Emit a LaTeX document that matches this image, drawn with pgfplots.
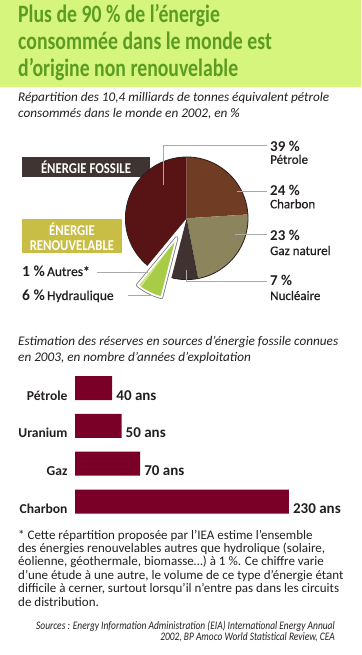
\documentclass[border=0pt]{standalone}
\usepackage{pgfplots}
\pgfplotsset{compat=1.18}
\usepgfplotslibrary{polar}
\usepackage{fontspec}
\setmainfont{Carlito}
\newfontfamily\titlefont[FakeStretch=0.79]{Carlito}
\newfontfamily\boxfont[FakeStretch=0.85]{Carlito}
\newfontfamily\srcfont[FakeStretch=0.82]{Carlito}
\newfontfamily\semifont[FakeBold=0.8]{Carlito}
\definecolor{cBand}{RGB}{214,245,125}
\definecolor{cTitle}{RGB}{92,156,35}
\definecolor{cText}{RGB}{35,31,32}
\definecolor{cBoxDark}{RGB}{63,52,49}
\definecolor{cBoxOlive}{RGB}{200,189,69}
\definecolor{cPet}{RGB}{88,20,20}
\definecolor{cCha}{RGB}{112,60,35}
\definecolor{cGaz}{RGB}{140,132,92}
\definecolor{cNuc}{RGB}{64,50,48}
\definecolor{cHyd}{RGB}{168,204,72}
\definecolor{cAut}{RGB}{205,228,128}
\definecolor{cWedge}{RGB}{120,120,120}
\definecolor{cLead}{RGB}{170,170,170}
\definecolor{cPieLine}{RGB}{40,30,30}
\definecolor{cBar}{RGB}{122,0,40}
\begin{document}
\begin{tikzpicture}
\path[use as bounding box] (0,0) rectangle (361pt,-655pt);
\begin{scope}[x=1pt,y=-1pt]
\fill[cBand] (0,0) rectangle (361,87);
\begin{scope}[every node/.style={anchor=base west, inner sep=0pt, text=cTitle, font=\titlefont\bfseries\fontsize{25}{27}\selectfont}]
\node at (18,22.7) {Plus de 90 \% de l’énergie};
\node at (18,50) {consommée dans le monde est};
\node at (18,76.5) {d’origine non renouvelable};
\end{scope}
\begin{scope}[every node/.style={anchor=base west, inner sep=0pt, text=cText, font=\itshape\fontsize{13.2}{15}\selectfont}]
\node at (18,102) {Répartition des 10,4 milliards de tonnes équivalent pétrole};
\node at (18,118) {consommés dans le monde en 2002, en \%};
\node at (18,345) {Estimation des réserves en sources d’énergie fossile connues};
\node at (18,361) {en 2003, en nombre d’années d’exploitation};
\end{scope}
\fill[cBoxDark] (22,157) rectangle (150,177);
\node[anchor=base, inner sep=0pt, text=white, font=\boxfont\bfseries\fontsize{15}{16}\selectfont] at (86,173) {ÉNERGIE FOSSILE};
\fill[cBoxOlive] (22,219) rectangle (122,253);
\node[anchor=base, inner sep=0pt, text=white, font=\boxfont\bfseries\fontsize{15}{16}\selectfont] at (72,235) {ÉNERGIE};
\node[anchor=base, inner sep=0pt, text=white, font=\boxfont\bfseries\fontsize{15}{16}\selectfont] at (72,250.5) {RENOUVELABLE};
\end{scope}

% ---------- pie ----------
\begin{polaraxis}[at={(186.7pt,-218.3pt)}, anchor=origin, hide axis, scale only axis,
  width=122.6pt, height=122.6pt, xmin=0, xmax=360, ymin=0, ymax=61.3, clip=false]
% Petrole 39 %, Charbon 24 %, Gaz naturel 23 %, Nucleaire 7 % (1 % = 3.6 deg, clockwise from 90 deg)
\addplot[fill=cPet, draw=none, domain={90}:{90+3.6*39}, samples=60] {61.3} -- (axis cs:0,0) -- cycle;
\addplot[fill=cCha, draw=none, domain={90-3.6*24}:{90}, samples=40] {61.3} -- (axis cs:0,0) -- cycle;
\addplot[fill=cGaz, draw=none, domain={90-3.6*47}:{90-3.6*24}, samples=40] {61.3} -- (axis cs:0,0) -- cycle;
\addplot[fill=cNuc, draw=none, domain={90-3.6*54}:{90-3.6*47}, samples=20] {61.3} -- (axis cs:0,0) -- cycle;
\addplot[draw=cPieLine, line width=0.8pt, domain={90-3.6*54}:{90+3.6*39}, samples=150] {61.3};
\end{polaraxis}
% exploded renewable wedge: Hydraulique 6 %, Autres 1 %
\begin{polaraxis}[at={(176.7pt,-237.9pt)}, anchor=origin, hide axis, scale only axis,
  width=122.6pt, height=122.6pt, xmin=0, xmax=360, ymin=0, ymax=61.3, clip=false]
\addplot[draw=cWedge, line width=3.4pt, line join=round, domain={90-3.6*61}:{90-3.6*54}, samples=20] {61.3} -- (axis cs:0,0) -- cycle;
\addplot[fill=cHyd, draw=none, domain={90-3.6*60}:{90-3.6*54}, samples=20] {61.3} -- (axis cs:0,0) -- cycle;
\addplot[fill=cAut, draw=none, domain={90-3.6*61}:{90-3.6*60}, samples=5] {61.3} -- (axis cs:0,0) -- cycle;
\addplot[draw=white, line width=1.8pt, line join=round, domain={90-3.6*61}:{90-3.6*54}, samples=20] {61.3} -- (axis cs:0,0) -- cycle;
\end{polaraxis}

\begin{scope}[x=1pt,y=-1pt]
\draw[cLead, line width=1pt] (163,185) -- (163,146) -- (267,146);
\draw[cLead, line width=1pt] (237,191) -- (267,191);
\draw[cLead, line width=1pt] (235,234) -- (267,234);
\draw[cLead, line width=1pt] (186.7,270) -- (186.7,281) -- (267,281);
\draw[cLead, line width=1pt] (97,272.7) -- (148,272.7);
\draw[cLead, line width=1pt] (128,295.5) -- (153,295.5);
\begin{scope}[every node/.style={anchor=base west, inner sep=0pt, text=cText}]
\node[font=\bfseries\fontsize{15}{15}\selectfont] at (270,151.5) {39 \%};
\node[font=\semifont\fontsize{13}{13}\selectfont] at (270,163.8) {Pétrole};
\node[font=\bfseries\fontsize{15}{15}\selectfont] at (270,195) {24 \%};
\node[font=\semifont\fontsize{13}{13}\selectfont] at (270,208.3) {Charbon};
\node[font=\bfseries\fontsize{15}{15}\selectfont] at (270,240) {23 \%};
\node[font=\semifont\fontsize{13}{13}\selectfont] at (270,255) {Gaz naturel};
\node[font=\bfseries\fontsize{15}{15}\selectfont] at (270,285) {7 \%};
\node[font=\semifont\fontsize{13}{13}\selectfont] at (270,300) {Nucléaire};
\node at (22,276) {{\bfseries\fontsize{15.5}{16}\selectfont 1 \%} {\semifont\fontsize{13.5}{14}\selectfont Autres*}};
\node at (22,300) {{\bfseries\fontsize{15.5}{16}\selectfont 6 \%} {\semifont\fontsize{13.5}{14}\selectfont Hydraulique}};
\end{scope}
\begin{scope}[every node/.style={anchor=base west, inner sep=0pt, text=cText, font=\fontsize{13}{14}\selectfont}]
\node at (18,539) {* Cette répartition proposée par l’IEA estime l’ensemble};
\node at (18,552.4) {des énergies renouvelables autres que hydrolique (solaire,};
\node at (18,565.8) {éolienne, géothermale, biomasse…) à 1 \%. Ce chiffre varie};
\node at (18,579.2) {d’une étude à une autre, le volume de ce type d'énergie étant};
\node at (18,592.6) {difficile à cerner, surtout lorsqu’il n'entre pas dans les circuits};
\node at (18,606) {de distribution.};
\end{scope}
\begin{scope}[every node/.style={anchor=base east, inner sep=0pt, text=cText, font=\srcfont\itshape\fontsize{11.5}{12}\selectfont}]
\node at (335,629) {Sources : Energy Information Administration (EIA) International Energy Annual};
\node at (335,640.5) {2002, BP Amoco World Statistical Review, CEA};
\end{scope}
\end{scope}

% ---------- bars ----------
\begin{axis}[at={(75pt,-501.5pt)}, anchor=origin, xbar, x=0.93pt, y=37.8pt,
  xmin=0, xmax=240, ymin=-0.5, ymax=3.5, bar width=24pt, clip=false,
  axis line style={draw=none}, tick style={draw=none}, xtick=\empty,
  ytick={0,1,2,3}, yticklabels={Charbon,Gaz,Uranium,Pétrole},
  yticklabel style={anchor=base east, inner sep=0pt, xshift=-3pt, yshift=-12pt,
    text=cText, font=\bfseries\fontsize{13.6}{14}\selectfont},
  /pgf/number format/assume math mode=true,
  point meta=x,
  nodes near coords={\pgfmathprintnumber{\pgfplotspointmeta}~ans},
  nodes near coords style={anchor=base west, inner sep=0pt, xshift=4pt, yshift=-12pt,
    text=cText, font=\bfseries\fontsize{15}{16}\selectfont}]
\addplot[fill=cBar, draw=none] coordinates {(230,0) (70,1) (50,2) (40,3)};
\end{axis}
\end{tikzpicture}
\end{document}
